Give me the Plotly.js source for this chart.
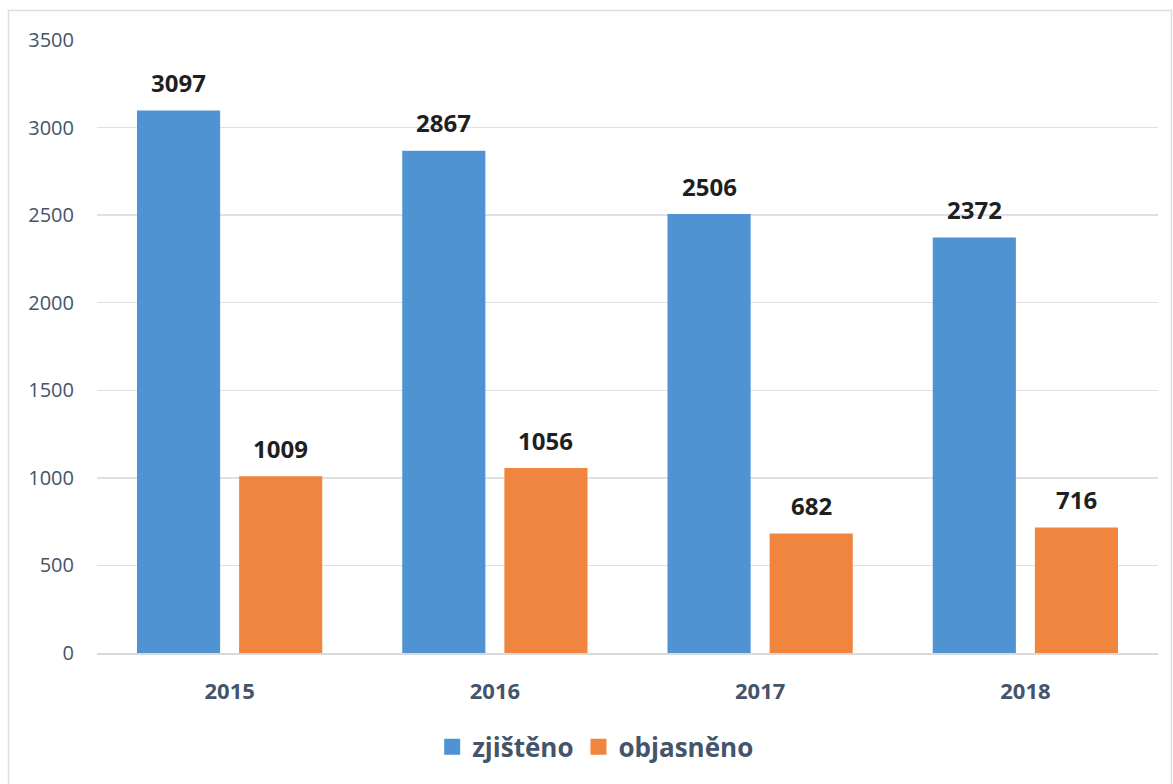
<!DOCTYPE html>
<html><head><meta charset="utf-8">
<script src="https://cdn.plot.ly/plotly-3.0.1.min.js"></script>
<style>html,body{margin:0;padding:0;background:#fff}#chart{width:1173px;height:784px}</style>
</head><body><div id="chart"></div>
<script>
const years = ['2015', '2016', '2017', '2018'];
const zjisteno = [3097, 2867, 2506, 2372];
const objasneno = [1009, 1056, 682, 716];
const seriesNames = ['zjištěno', 'objasněno'];
const seriesColors = ['#4f93d2', '#f0853f'];
const yTicks = [0, 500, 1000, 1500, 2000, 2500, 3000, 3500];

const labelFont = {family: 'Open Sans, sans-serif', size: 24, color: '#1f1f1f', weight: 700};
const traces = [
  {type: 'bar', name: seriesNames[0], x: years, y: zjisteno, showlegend: false,
   marker: {color: seriesColors[0]}},
  {type: 'bar', name: seriesNames[1], x: years, y: objasneno, showlegend: false,
   marker: {color: seriesColors[1]}},
  {type: 'scatter', mode: 'markers', name: seriesNames[0], x: [null], y: [null],
   marker: {symbol: 'square', size: 18, color: seriesColors[0]}},
  {type: 'scatter', mode: 'markers', name: seriesNames[1], x: [null], y: [null],
   marker: {symbol: 'square', size: 18, color: seriesColors[1]}}
];
const annotations = [];
years.forEach((yr, i) => {
  annotations.push({x: i, y: zjisteno[i], xref: 'x', yref: 'y', text: String(zjisteno[i]),
    showarrow: false, xshift: -51, yshift: 28, yanchor: 'middle', font: labelFont});
  annotations.push({x: i, y: objasneno[i], xref: 'x', yref: 'y', text: String(objasneno[i]),
    showarrow: false, xshift: 51, yshift: 28, yanchor: 'middle', font: labelFont});
});
const layout = {
  width: 1173, height: 784,
  margin: {l: 97, r: 15, t: 40, b: 131},
  paper_bgcolor: '#fff', plot_bgcolor: '#fff',
  font: {family: 'Open Sans, sans-serif', color: '#44546a'},
  barmode: 'group', bargap: 0.23, bargroupgap: 0.186,
  showlegend: true,
  legend: {orientation: 'h', x: 0.47, xanchor: 'center', y: -0.153, yanchor: 'middle',
    font: {size: 26, color: '#44546a', weight: 700}, itemwidth: 30, tracegroupgap: 0},
  xaxis: {type: 'category', range: [-0.5, years.length - 0.5], showgrid: false, showline: true,
    linecolor: '#d9d9d9', linewidth: 1.5,
    ticks: '', tickfont: {size: 22, color: '#44546a', weight: 700}, ticklabelstandoff: 18, zeroline: false},
  yaxis: {range: [0, 3500], tickvals: yTicks, ticktext: yTicks.map(String),
    showgrid: true, gridcolor: '#dde1e6', gridwidth: 1.5, zeroline: false, showline: false,
    ticks: '', tickfont: {size: 20, color: '#44546a'}, ticklabelstandoff: 22},
  annotations: annotations,
  shapes: [{type: 'rect', xref: 'paper', yref: 'paper',
    x0: (8.5 - 97) / 1061, x1: (1171.5 - 97) / 1061, y0: -0.3, y1: (653 - 10.5) / 613,
    line: {color: '#d9dee5', width: 1.5}, fillcolor: 'rgba(0,0,0,0)', layer: 'below'}]
};
Plotly.newPlot('chart', traces, layout, {displayModeBar: false, staticPlot: true});
</script></body></html>
